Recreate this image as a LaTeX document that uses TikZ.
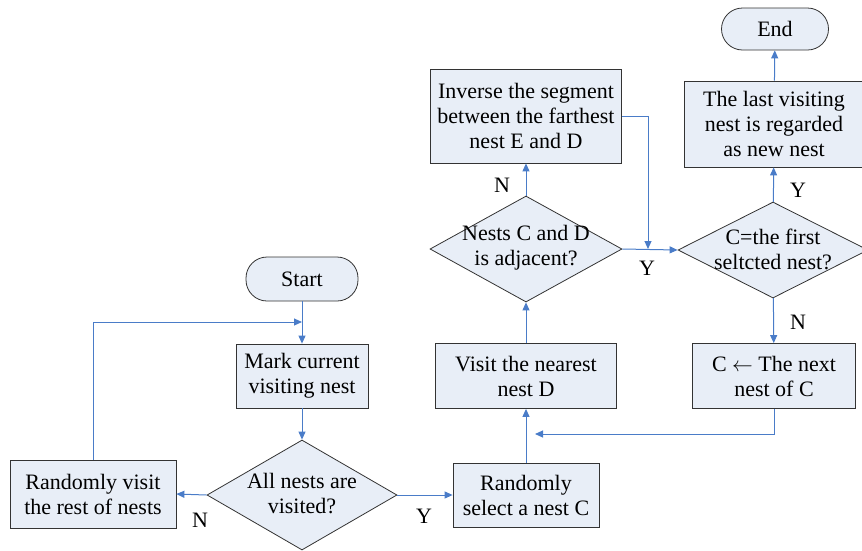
\documentclass[tikz,border=0pt]{standalone}
\usepackage{fontspec}
\setmainfont{Liberation Serif}
\usepackage{tikz}
\usetikzlibrary{arrows.meta}
\usetikzlibrary{shapes.geometric}
\definecolor{boxfill}{RGB}{232,238,247}
\definecolor{flowblue}{RGB}{74,124,200}

\begin{document}
\begin{tikzpicture}[x=1pt,y=-1pt,
  font=\fontsize{22}{25}\selectfont,
  box/.style={draw=black!80,fill=boxfill,line width=.8pt,inner sep=0pt,align=center},
  term/.style={box,rounded corners=21pt},
  dec/.style={draw=black!80,fill=boxfill,line width=.8pt,diamond,inner sep=0pt},
  txt/.style={align=center,inner sep=0pt},
  flow/.style={draw=flowblue,line width=1pt,-{Triangle[length=8pt,width=7pt]}}]
\useasboundingbox (0,0) rectangle (862,550);
% left column
\node[term,minimum width=112,minimum height=44] (start) at (302,279) {Start};
\node[box,minimum width=132,minimum height=64] (mark) at (302,376) {Mark current\\visiting nest};
\node[dec,minimum width=190,minimum height=110] (visited) at (302,495) {};
\node[txt] (visitedt) at (302,494) {All nests are\\visited?};
\node[box,minimum width=166,minimum height=68] (rvisit) at (93,494) {Randomly visit\\the rest of nests};
% middle column
\node[box,minimum width=146,minimum height=64] (select) at (526,495) {Randomly\\select a nest C};
\node[box,minimum width=181,minimum height=65] (nearest) at (526,376) {Visit the nearest\\nest D};
\node[dec,minimum width=192,minimum height=106] (adj) at (526,249) {};
\node[txt] (adjt) at (526,248) {Nests C and D\\is adjacent?};
\node[box,minimum width=191,minimum height=94] (inverse) at (526,116) {Inverse the segment\\between the farthest\\nest E and D};
% right column
\node[dec,minimum width=190,minimum height=96] (first) at (773,250) {};
\node[txt] (firstt) at (773,249) {C=the first\\seltcted nest?};
\node[box,minimum width=180,minimum height=86] (last) at (774,124) {The last visiting\\nest is regarded\\as new nest};
\node[term,minimum width=107,minimum height=42] (end) at (775,29) {End};
\node[box,minimum width=163,minimum height=65] (next) at (774,376) {C $\leftarrow$ The next\\nest of C};
% labels
\node (n1) at (200,520) {N};
\node (y1) at (424,516) {Y};
\node (n2) at (502,185) {N};
\node (y2) at (647,268) {Y};
\node (y3) at (798,190) {Y};
\node (n3) at (798,322) {N};
% join points
\coordinate (loopin) at (302,322);
\coordinate (join) at (648,249);
\coordinate (back) at (535,434);
% connectors
\draw[flow] (start) -- (mark);
\draw[flow] (mark) -- (visited);
\draw[flow] (visited.west) -- (rvisit.east);
\draw[flow] (rvisit.north) |- (loopin);
\draw[flow] (visited.east) -- (select.west);
\draw[flow] (select) -- (nearest);
\draw[flow] (nearest) -- (adj);
\draw[flow] (adj) -- (inverse);
\draw[flow] (inverse.east) -| (join);
\draw[flow] (adj.east) -- (first.west);
\draw[flow] (first) -- (last);
\draw[flow] (last) -- (end);
\draw[flow] (first) -- (next);
\draw[flow] (next.south) |- (back);
\end{tikzpicture}
\end{document}
